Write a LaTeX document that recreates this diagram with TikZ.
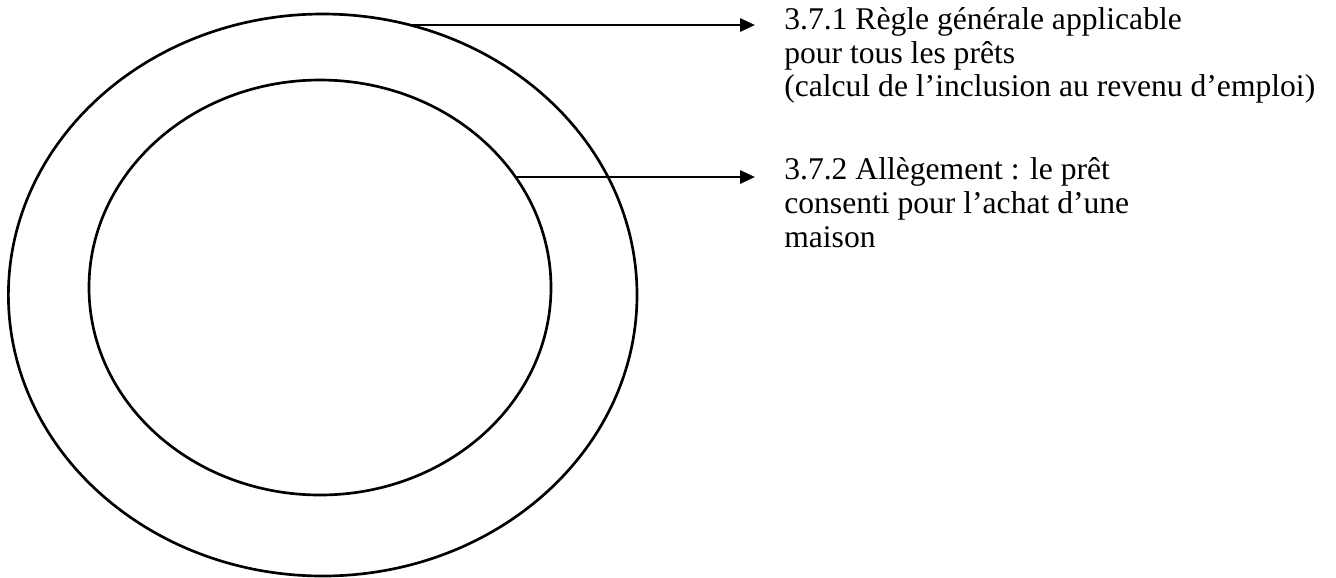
\documentclass[tikz,border=0pt]{standalone}
\usepackage{fontspec}
\setmainfont{Liberation Serif}
\usetikzlibrary{arrows.meta}

\begin{document}
\begin{tikzpicture}[x=0.375pt,y=-0.375pt,line width=1pt,
  lab/.style={anchor=base west,align=left,inner sep=0pt,font=\fontsize{11.85}{12.64}\selectfont},
  pointer/.style={-{Triangle[length=5.6pt,width=4.9pt]}}]
\useasboundingbox (0,0) rectangle (1336,577);
% the two rings
\draw (322.7,295) ellipse [x radius=314.3,y radius=281];
\draw (320,287.5) ellipse [x radius=231,y radius=207.5];
\coordinate (outerhit) at (409.7,25);
\coordinate (innerhit) at (515.5,177);
\coordinate (tipA) at (755,25);
\coordinate (tipB) at (755,177);
% base anchor sits on the last line
\node[lab] (general) at (783,96.7) {3.7.1 Règle générale applicable\\pour tous les prêts\\(calcul de l’inclusion au revenu d’emploi)};
\node[lab] (maison) at (783,247.4) {3.7.2 Allègement : le prêt\\consenti pour l’achat d’une\\maison};
\draw[pointer] (outerhit)--(tipA);
\draw[pointer] (innerhit)--(tipB);
\end{tikzpicture}
\end{document}
